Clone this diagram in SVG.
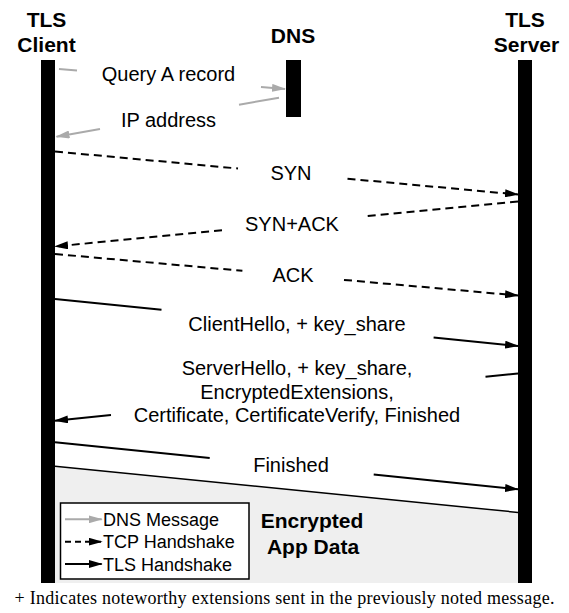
<svg xmlns="http://www.w3.org/2000/svg" width="569" height="613" viewBox="0 0 569 613">
  <style>
    .hdr { font-family: "Liberation Sans", Arial, sans-serif; font-weight: bold; font-size: 21px; fill: #000; text-anchor: middle; }
    .lbl { font-family: "Liberation Sans", Arial, sans-serif; font-size: 20px; fill: #000; text-anchor: middle; }
    .leg { font-family: "Liberation Sans", Arial, sans-serif; font-size: 18px; fill: #000; }
    .foot { font-family: "Liberation Serif", "Times New Roman", serif; font-size: 18px; fill: #000; text-anchor: middle; }
    .bar { fill: #000; }
    .dns { fill: none; stroke: #aaaaaa; stroke-width: 2; marker-end: url(#ahg); }
    .tcp { fill: none; stroke: #000; stroke-width: 2; stroke-dasharray: 8 5; marker-end: url(#ah); }
    .tls { fill: none; stroke: #000; stroke-width: 2; marker-end: url(#ah); }
  </style>
  <defs>
    <marker id="ah" viewBox="0 0 14 8" refX="13" refY="4" markerWidth="14" markerHeight="8" markerUnits="userSpaceOnUse" orient="auto">
      <path d="M0,0 L14,4 L0,8 z" fill="#000"/>
    </marker>
    <marker id="ahg" viewBox="0 0 14 8" refX="13" refY="4" markerWidth="14" markerHeight="8" markerUnits="userSpaceOnUse" orient="auto">
      <path d="M0,0 L14,4 L0,8 z" fill="#aaaaaa"/>
    </marker>
  </defs>

  <rect width="569" height="613" fill="#fff"/>

  <!-- encrypted app data region -->
  <g id="app-data">
    <polygon points="55,466.3 518,512.4 518,583 55,583" fill="#efefef"/>
    <line x1="55" y1="466.3" x2="518" y2="512.4" stroke="#000" stroke-width="1.5"/>
    <text class="hdr" x="312" y="528">Encrypted</text>
    <text class="hdr" x="313" y="554">App Data</text>
  </g>

  <!-- lifelines -->
  <g id="tls-client">
    <text class="hdr" x="46.5" y="27">TLS</text>
    <text class="hdr" x="46.5" y="52">Client</text>
    <rect class="bar" x="41" y="60" width="14" height="523"/>
  </g>
  <g id="dns">
    <text class="hdr" x="293" y="43">DNS</text>
    <rect class="bar" x="286" y="60" width="15" height="57"/>
  </g>
  <g id="tls-server">
    <text class="hdr" x="525" y="27">TLS</text>
    <text class="hdr" x="526.5" y="52">Server</text>
    <rect class="bar" x="518" y="60" width="14" height="523"/>
  </g>

  <!-- connectors -->
  <g id="connectors">
    <path class="dns" d="M59,69 L77,70.6 M261,86.9 L285,89"/>
    <path class="dns" d="M279,97.7 L239,104.7 M100,129.1 L56.5,136.7"/>
    <path class="tcp" d="M55,151.5 L238,168.5 M347.5,178.7 L518,194.5"/>
    <path class="tcp" d="M518,201.5 L364.7,216.4 M222,230.3 L55,246.5"/>
    <path class="tcp" d="M55,254 L242.4,270.8 M344,279.9 L518,295.5"/>
    <path class="tls" d="M55,299 L161.5,309.8 M433.6,337.4 L518,346"/>
    <path class="tls" d="M518,373.5 L485.5,376.8 M111,415 L55,420.7"/>
    <path class="tls" d="M55,442.3 L209.7,458 M373.7,474.6 L518,489.3"/>
  </g>

  <!-- connector labels -->
  <g id="labels">
    <text class="lbl" x="168.5" y="81">Query A record</text>
    <text class="lbl" x="168.5" y="127">IP address</text>
    <text class="lbl" x="291" y="179.5">SYN</text>
    <text class="lbl" x="292" y="230.5">SYN+ACK</text>
    <text class="lbl" x="293" y="282">ACK</text>
    <text class="lbl" x="297" y="330.5">ClientHello, + key_share</text>
    <text class="lbl" x="297" y="375">ServerHello, + key_share,</text>
    <text class="lbl" x="297" y="398.5">EncryptedExtensions,</text>
    <text class="lbl" x="297" y="422">Certificate, CertificateVerify, Finished</text>
    <text class="lbl" x="291" y="472">Finished</text>
  </g>

  <!-- legend -->
  <g id="legend">
    <rect x="60.5" y="503" width="188.5" height="76" fill="#fff" stroke="#000" stroke-width="1.5"/>
    <path class="dns" d="M65,519.3 L101.7,519.3"/>
    <path class="tcp" d="M65,541.7 L101.7,541.7" style="stroke-dasharray: 6 4"/>
    <path class="tls" d="M65,564 L101.7,564"/>
    <text class="leg" x="103" y="525.7">DNS Message</text>
    <text class="leg" x="103" y="548.3">TCP Handshake</text>
    <text class="leg" x="103" y="571">TLS Handshake</text>
  </g>

  <text class="foot" x="284.5" y="604" textLength="540" lengthAdjust="spacing">+ Indicates noteworthy extensions sent in the previously noted message.</text>
</svg>
